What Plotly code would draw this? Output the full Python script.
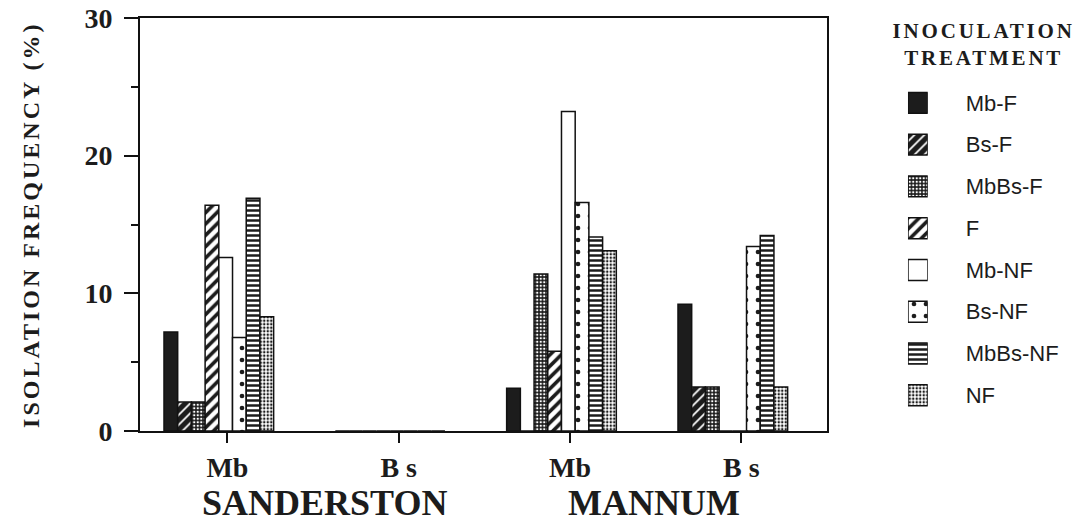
import plotly.graph_objects as go

# ---- data -------------------------------------------------------------
sites = ["SANDERSTON", "SANDERSTON", "MANNUM", "MANNUM"]
hosts = ["Mb", "B s", "Mb", "B s"]
treatments = ["Mb-F", "Bs-F", "MbBs-F", "F", "Mb-NF", "Bs-NF", "MbBs-NF", "NF"]

mb_f = [7.2, 0, 3.1, 9.2]
bs_f = [2.1, 0, 0, 3.2]
mbbs_f = [2.1, 0, 11.4, 3.2]
f_only = [16.4, 0, 5.8, 0]
mb_nf = [12.6, 0, 23.2, 0]
bs_nf = [6.8, 0, 16.6, 13.4]
mbbs_nf = [16.9, 0, 14.1, 14.2]
nf_only = [8.3, 0, 13.1, 3.2]

series = [mb_f, bs_f, mbbs_f, f_only, mb_nf, bs_nf, mbbs_nf, nf_only]
y_ticks = [0, 10, 20, 30]
y_minor = [5, 15, 25]

# ---- styling ----------------------------------------------------------
INK = "#1c1c1c"
SERIF = "Liberation Serif, Times New Roman, serif"
SANS = "Liberation Sans, Arial, sans-serif"

# fill style for each treatment: (shape, background, foreground, size, solidity)
fills = {
    "Mb-F": ("", INK, INK, 8, 0.3),
    "Bs-F": ("/", INK, "white", 7, 0.25),
    "MbBs-F": (".", INK, "white", 3.5, 0.35),
    "F": ("/", "white", INK, 8, 0.45),
    "Mb-NF": ("", "white", INK, 8, 0.3),
    "Bs-NF": (".", "white", INK, 12, 0.12),
    "MbBs-NF": ("-", "white", INK, 5, 0.5),
    "NF": (".", "white", INK, 3.5, 0.4),
}


def marker_for(name):
    shape, bg, fg, size, solidity = fills[name]
    m = dict(color=bg, line=dict(color="#111", width=1.5))
    if shape:
        m["pattern"] = dict(shape=shape, bgcolor=bg, fgcolor=fg, size=size,
                            solidity=solidity, fillmode="replace")
    return m


x_pos = list(range(len(hosts)))
BAR_W = 0.08
GROUP_START = -0.37

fig = go.Figure()

for i, (name, vals) in enumerate(zip(treatments, series)):
    fig.add_trace(go.Bar(
        x=x_pos, y=vals, name=name,
        width=BAR_W, offset=GROUP_START + i * BAR_W,
        marker=marker_for(name),
        showlegend=False,
        xaxis="x", yaxis="y",
    ))

# key swatches, drawn on their own small axis pair to the right
for name in treatments:
    fig.add_trace(go.Bar(
        orientation="h", x=[1], y=[name], width=0.5,
        marker=marker_for(name),
        showlegend=False, hoverinfo="skip",
        xaxis="x2", yaxis="y2",
    ))

axis_line = dict(showline=True, linecolor="#111", linewidth=2, mirror=True,
                 showgrid=False, zeroline=False)

fig.update_layout(
    width=1080, height=526,
    margin=dict(l=140, r=0, t=18, b=95),
    paper_bgcolor="white", plot_bgcolor="white",
    barmode="overlay", showlegend=False,
    xaxis=dict(
        domain=[0, 0.7309], range=[-0.51, 3.5],
        tickmode="array", tickvals=x_pos, ticktext=hosts,
        ticks="outside", ticklen=10, tickwidth=2, tickcolor="#111",
        tickfont=dict(family=SERIF, size=28, color=INK, weight="bold"),
        **axis_line,
    ),
    yaxis=dict(
        range=[0, 30], tickmode="array", tickvals=y_ticks,
        ticks="outside", ticklen=14, tickwidth=2, tickcolor="#111",
        ticklabelstandoff=6,
        minor=dict(tickmode="array", tickvals=y_minor, ticks="outside",
                   ticklen=7, tickwidth=1.5, tickcolor="#111"),
        tickfont=dict(family=SERIF, size=28, color=INK, weight="bold"),
        **axis_line,
    ),
    xaxis2=dict(
        domain=[0.817, 0.838], range=[0, 1], anchor="y2",
        showticklabels=False, showline=False, showgrid=False,
        zeroline=False, ticks="",
    ),
    yaxis2=dict(
        domain=[0.036, 0.845], anchor="x2", side="right",
        type="category", categoryorder="array", categoryarray=treatments,
        autorange="reversed",
        showline=False, showgrid=False, zeroline=False, ticks="",
        ticklabelstandoff=37,
        tickfont=dict(family=SANS, size=22, color=INK),
    ),
)

# axis title, key heading and site names
site_names = list(dict.fromkeys(sites))
annotations = [
    dict(text="ISOLATION FREQUENCY (%)",
         xref="paper", yref="paper", x=-0.116, y=0.5, textangle=-90,
         xanchor="center", yanchor="middle", showarrow=False,
         font=dict(family=SERIF, size=24, color=INK, weight="bold")),
    dict(text="INOCULATION<br>TREATMENT",
         xref="paper", yref="paper", x=0.897, y=0.935, align="center",
         xanchor="center", yanchor="middle", showarrow=False,
         font=dict(family=SERIF, size=21, color=INK, weight="bold")),
]
site_shift = {"SANDERSTON": 11, "MANNUM": -2}
for site in site_names:
    idx = [p for p, s in zip(x_pos, sites) if s == site]
    annotations.append(dict(
        text=site, xref="x", yref="paper", x=sum(idx) / len(idx),
        xshift=site_shift[site], y=-0.2276,
        xanchor="center", yanchor="bottom", showarrow=False,
        font=dict(family=SERIF, size=36, color=INK, weight="bold"),
    ))
fig.update_layout(annotations=annotations)

# widen the letter spacing of the spaced-out capital headings
tracking_js = """
var gd = document.getElementById('{plot_id}');
gd.querySelectorAll('text.annotation-text').forEach(function (t) {
  var s = t.textContent;
  if (s.indexOf('ISOLATION') === 0) { t.style.letterSpacing = '3px'; }
  else if (s.indexOf('INOCULATION') === 0) { t.style.letterSpacing = '2.8px'; }
});
"""

fig.write_html("out.html", post_script=tracking_js)
